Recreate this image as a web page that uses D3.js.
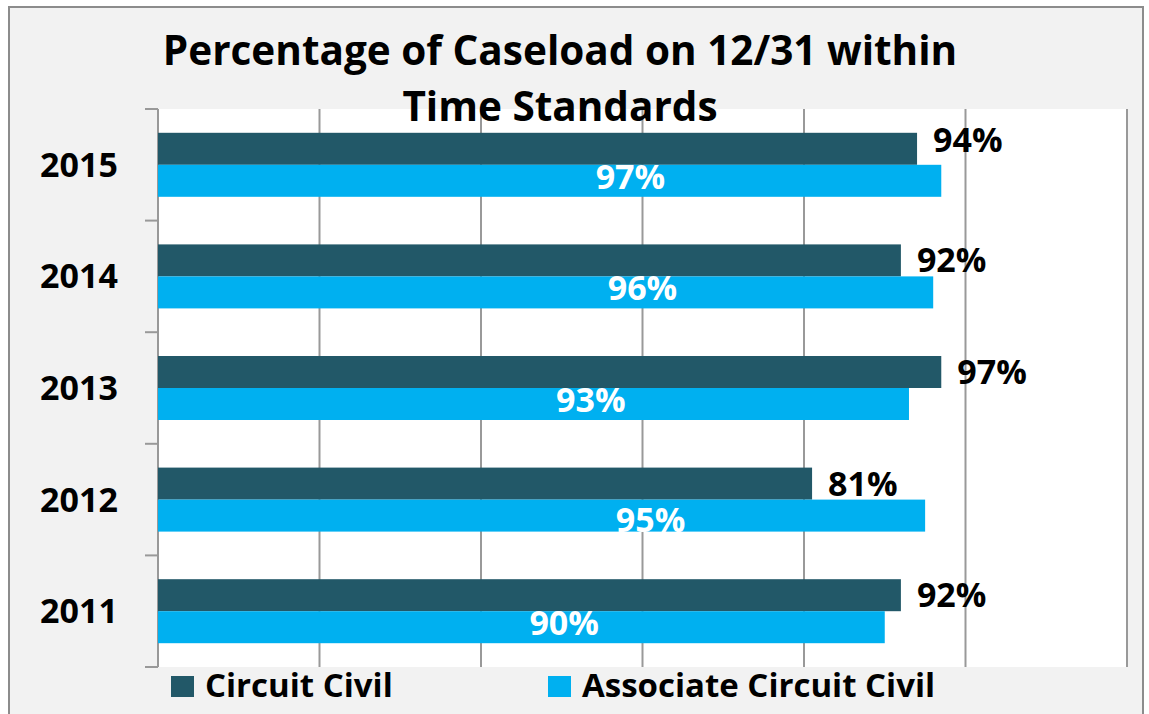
<!DOCTYPE html>
<head>
  <meta charset="utf-8">
  <script src="https://cdnjs.cloudflare.com/ajax/libs/d3/7.8.5/d3.min.js"></script>
  <style>
    body { margin:0; background:#fff; }
    text { font-family: "Open Sans", Lato, sans-serif; font-weight: bold; }
  </style>
</head>
<body>
  <div id="vis"></div>
  <script>
    // data
    var years = ["2015", "2014", "2013", "2012", "2011"];
    var series = ["Circuit Civil", "Associate Circuit Civil"];
    var circuitCivil = [94, 92, 97, 81, 92];
    var associateCircuitCivil = [97, 96, 93, 95, 90];
    var xTicks = [0, 20, 40, 60, 80, 100, 120];
    // where the white labels sit along the value axis (they were placed by hand)
    var assocLabelAt = [58.5, 60, 53.6, 61, 50.3];

    var width = 1149, height = 714;
    var colors = ["#225868", "#00b0f0"];

    var svg = d3.select("#vis").append("svg")
      .attr("width", width)
      .attr("height", height);

    // chart area + border
    svg.append("rect")
      .attr("x", 9).attr("y", 7)
      .attr("width", 1134).attr("height", 720)
      .style("fill", "#f2f2f2")
      .style("stroke", "#8c8c8c")
      .style("stroke-width", 2);

    var x = d3.scaleLinear().domain([0, 120]).range([158, 1127]);
    var y = d3.scaleBand().domain(years).range([109, 667])
      .paddingInner(0.4265).paddingOuter(0.21325);
    var ys = d3.scaleBand().domain(series).range([0, y.bandwidth()]);

    // plot area
    svg.append("rect")
      .attr("x", x(0)).attr("y", 109)
      .attr("width", x(120) - x(0)).attr("height", 667 - 109)
      .style("fill", "#fff");

    // gridlines
    svg.selectAll(".grid").data(xTicks).enter().append("line")
      .attr("x1", function(d) { return x(d); })
      .attr("x2", function(d) { return x(d); })
      .attr("y1", 109).attr("y2", 667)
      .style("stroke", "#999")
      .style("stroke-width", 2);

    // category ticks on the y axis
    var step = y.step();
    svg.selectAll(".ytick").data(d3.range(years.length + 1)).enter().append("line")
      .attr("x1", x(0) - 13).attr("x2", x(0))
      .attr("y1", function(i) { return 109 + i * step; })
      .attr("y2", function(i) { return 109 + i * step; })
      .style("stroke", "#999")
      .style("stroke-width", 2);

    var rows = years.map(function(yr, i) {
      return { year: yr, cc: circuitCivil[i], acc: associateCircuitCivil[i], at: assocLabelAt[i] };
    });

    // bars
    var g = svg.selectAll(".row").data(rows).enter().append("g")
      .attr("transform", function(d) { return "translate(0," + y(d.year) + ")"; });

    g.append("rect")
      .attr("x", x(0))
      .attr("y", ys(series[0]))
      .attr("width", function(d) { return x(d.cc) - x(0); })
      .attr("height", ys.bandwidth())
      .style("fill", colors[0]);

    g.append("rect")
      .attr("x", x(0))
      .attr("y", ys(series[1]))
      .attr("width", function(d) { return x(d.acc) - x(0); })
      .attr("height", ys.bandwidth())
      .style("fill", colors[1]);

    // labels
    g.append("text")
      .attr("x", function(d) { return x(d.cc) + 16; })
      .attr("y", function(d, i) { return ys(series[0]) + ys.bandwidth() / 2 + (i == 0 ? 3 : 12); })
      .style("font-size", "34px")
      .style("fill", "#000")
      .text(function(d) { return d.cc + "%"; });

    g.append("text")
      .attr("x", function(d) { return x(d.at); })
      .attr("y", function(d, i) { return ys(series[1]) + ys.bandwidth() / 2 + (i == 3 ? 16 : 8); })
      .attr("text-anchor", "middle")
      .style("font-size", "34px")
      .style("fill", "#fff")
      .text(function(d) { return d.acc + "%"; });

    // year labels
    svg.selectAll(".ylab").data(years).enter().append("text")
      .attr("x", 79)
      .attr("y", function(d) { return y(d) + y.bandwidth() / 2 + 12; })
      .attr("text-anchor", "middle")
      .style("font-size", "34px")
      .text(function(d) { return d; });

    // title
    var title = svg.append("text")
      .attr("text-anchor", "middle")
      .style("font-size", "40.5px");
    title.append("tspan").attr("x", 560).attr("y", 65).text("Percentage of Caseload on 12/31 within");
    title.append("tspan").attr("x", 560).attr("y", 121).text("Time Standards");

    // legend
    var legX = [171, 548];
    var leg = svg.selectAll(".leg").data(series).enter().append("g")
      .attr("transform", function(d, i) { return "translate(" + legX[i] + ",676)"; });
    leg.append("rect")
      .attr("width", 23).attr("height", 21)
      .style("fill", function(d, i) { return colors[i]; });
    leg.append("text")
      .attr("x", 34).attr("y", 21)
      .style("font-size", "33px")
      .text(function(d) { return d; });
  </script>
</body>
